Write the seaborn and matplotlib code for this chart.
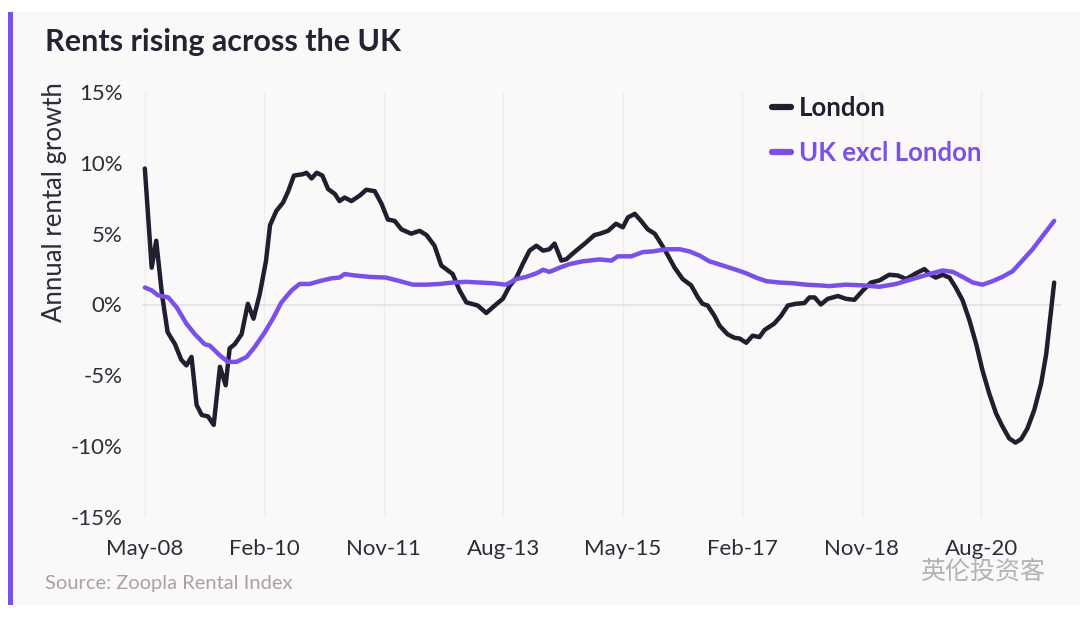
import matplotlib
matplotlib.use("Agg")
import matplotlib.pyplot as plt
import seaborn as sns
import pandas as pd
from matplotlib.patches import Rectangle

# months after May-08 (annual rental growth, %)
london_months = [0, 1.2, 2, 3, 4, 5.3, 6.4, 7.3, 8.2, 9.1, 10, 11.1, 12.1, 13.2, 14.2, 14.9,
                 15.8, 17, 18.1, 19.1, 20.2, 21.3, 22, 23.1, 24.3, 25.2, 26.2, 27.8, 28.4,
                 29.3, 30.2, 31.2, 32.2, 33.4, 34.2, 35.1, 36.3, 37.8, 38.9, 40.4, 41.6,
                 42.7, 43.9, 45.1, 46.8, 48.3, 49.5, 50.9, 52.1, 54.1, 55.3, 56.5, 58.5,
                 60, 61.5, 62.9, 64.1, 65.3, 66.4, 67.6, 68.8, 70, 71.1, 72, 73.2, 74.1,
                 75.2, 76.4, 77.6, 79, 80, 81.4, 82.8, 84, 84.9, 86.1, 87.2, 88.4, 89.6,
                 90.4, 91.6, 93.1, 94.5, 96, 97.2, 98, 98.9, 100.1, 101, 102.4, 103.6,
                 104.5, 105.7, 106.8, 108, 108.9, 110.6, 111.8, 113, 114.4, 115.9, 116.8,
                 117.7, 118.8, 120, 121.8, 123.2, 124.7, 126.2, 127.6, 129.1, 130.8, 132.3,
                 133.8, 135.5, 137, 137.9, 139, 140.2, 141.4, 142.5, 143.7, 144.9, 146.1,
                 147.2, 148.4, 149.6, 150.7, 151.9, 153, 154, 155.1, 156.3, 157.5, 158.4,
                 159.2, 159.8]
london_growth = [9.6, 2.6, 4.5, 0.75, -1.95, -2.8, -3.9, -4.3, -3.7, -7.1, -7.8, -7.9, -8.5,
                 -4.4, -5.7, -3.1, -2.8, -2.1, 0.05, -1.0, 0.75, 3.1, 5.6, 6.6, 7.2, 8.0,
                 9.1, 9.2, 9.3, 8.9, 9.3, 9.1, 8.15, 7.8, 7.3, 7.55, 7.3, 7.7, 8.1, 8.0,
                 7.1, 6.0, 5.9, 5.3, 5.0, 5.2, 4.9, 4.15, 2.75, 2.15, 1.0, 0.15, -0.07,
                 -0.6, -0.07, 0.4, 1.3, 1.9, 2.85, 3.8, 4.15, 3.8, 3.9, 4.3, 3.1, 3.2, 3.6,
                 4.0, 4.4, 4.9, 5.0, 5.2, 5.7, 5.45, 6.15, 6.4, 5.9, 5.3, 5.0, 4.5, 3.7,
                 2.6, 1.8, 1.35, 0.5, 0.05, -0.07, -0.8, -1.5, -2.1, -2.35, -2.4, -2.7,
                 -2.2, -2.3, -1.8, -1.35, -0.8, -0.07, 0.05, 0.1, 0.5, 0.5, 0.0, 0.4, 0.6,
                 0.4, 0.33, 1.0, 1.55, 1.7, 2.1, 2.05, 1.8, 2.2, 2.5, 2.15, 1.9, 2.1, 1.9,
                 1.2, 0.3, -1.1, -2.8, -4.65, -6.3, -7.7, -8.6, -9.45, -9.75, -9.5, -8.75,
                 -7.45, -5.6, -3.5, -0.65, 1.55]

uk_months = [0, 1.2, 2.3, 4.1, 5.6, 7.3, 8.8, 10.5, 11.4, 13.2, 14.6, 16.1, 17.9, 19.3, 21.1,
             22.5, 24, 25.8, 27.2, 29, 30.7, 32.8, 34.2, 35.1, 36.9, 39.5, 42.4, 44.8, 47.1,
             49.5, 51.8, 54.1, 56.5, 58.8, 61.2, 63.5, 65.3, 67, 68.8, 70, 71.1, 72.9, 74.6,
             77, 79.9, 82, 83.1, 85.5, 87.5, 89.3, 91.6, 94, 95.7, 97.5, 99.2, 101.6, 103.9,
             105.7, 107.4, 109.2, 111.5, 113.9, 116.2, 118.5, 120.3, 123.2, 126.2, 129.1,
             132, 134.9, 137.9, 140.2, 142, 143.7, 145.5, 147.2, 149, 150.7, 152.5, 154.2,
             156, 157.8, 159.8]
uk_growth = [1.2, 1.0, 0.65, 0.5, -0.2, -1.35, -2.1, -2.8, -2.9, -3.6, -4.05, -4.05, -3.7,
             -3.0, -1.95, -1.0, 0.15, 1.0, 1.45, 1.45, 1.65, 1.85, 1.9, 2.15, 2.05, 1.95,
             1.9, 1.65, 1.4, 1.4, 1.45, 1.55, 1.6, 1.55, 1.5, 1.4, 1.8, 1.95, 2.2, 2.45,
             2.3, 2.6, 2.85, 3.05, 3.18, 3.1, 3.4, 3.4, 3.7, 3.75, 3.9, 3.9, 3.75, 3.45,
             3.05, 2.75, 2.45, 2.2, 1.9, 1.65, 1.55, 1.5, 1.4, 1.35, 1.3, 1.4, 1.35, 1.25,
             1.45, 1.8, 2.15, 2.4, 2.3, 1.95, 1.55, 1.4, 1.65, 1.95, 2.35, 3.1, 3.9, 4.85,
             5.9]

tick_months = [0, 21, 42, 63, 84, 105, 126, 147]
tick_labels = ["May-08", "Feb-10", "Nov-11", "Aug-13", "May-15", "Feb-17", "Nov-18", "Aug-20"]
y_ticks = [15, 10, 5, 0, -5, -10, -15]

DARK = "#221e30"
PURPLE = "#7a50e8"
PANEL = "#faf8f8"
TEXT = "#2e2c36"

df = pd.concat([
    pd.DataFrame({"month": london_months, "growth": london_growth, "series": "London"}),
    pd.DataFrame({"month": uk_months, "growth": uk_growth, "series": "UK excl London"}),
])

sns.set_theme(style="white")
plt.rcParams["font.family"] = ["Lato", "DejaVu Sans"]

fig = plt.figure(figsize=(10.8, 6.2), dpi=100)
fig.patch.set_facecolor("white")
# card background and purple accent bar (drawn below the axes)
fig.patches.append(Rectangle((8 / 1080, 1 - 605 / 620), 1 - 8 / 1080, (605 - 12) / 620,
                             transform=fig.transFigure, facecolor=PANEL, edgecolor="none", zorder=-2))
fig.patches.append(Rectangle((8 / 1080, 1 - 605 / 620), 5 / 1080, (605 - 12) / 620,
                             transform=fig.transFigure, facecolor=PURPLE, edgecolor="none", zorder=-1))

ax = fig.add_axes([142 / 1080, 103 / 620, 919 / 1080, 425 / 620])
ax.set_facecolor(PANEL)

sns.lineplot(data=df, x="month", y="growth", hue="series", estimator=None, sort=False,
             palette={"London": DARK, "UK excl London": PURPLE}, linewidth=3.2,
             ax=ax, solid_capstyle="round", zorder=3)

ax.set_xlim(-0.5, 161)
ax.set_ylim(-15, 15)
ax.set_xticks(tick_months)
ax.set_xticklabels(tick_labels)
ax.set_yticks(y_ticks)
ax.set_yticklabels([f"{v}%" for v in y_ticks])
ax.tick_params(axis="both", length=0, labelsize=16, colors=TEXT)
ax.tick_params(axis="x", pad=16)
ax.tick_params(axis="y", pad=14)
for s in ax.spines.values():
    s.set_visible(False)
for m in tick_months:
    ax.axvline(m, color="#efecec", linewidth=1, zorder=1)
ax.axhline(0, color="#e3e0e0", linewidth=1.2, zorder=1)

ax.set_xlabel("")
ax.set_ylabel("Annual rental growth", fontsize=18.5, color=TEXT)
ax.yaxis.set_label_coords(-0.082, 0.74)

leg = ax.legend(loc="upper left", bbox_to_anchor=(0.66, 1.045), frameon=False, fontsize=18.5,
                handlelength=0.75, handletextpad=0.3, labelspacing=0.8, labelcolor="linecolor",
                title=None)
for t in leg.get_texts():
    t.set_fontweight("bold")
for h in leg.get_lines():
    h.set_linewidth(4.5)

fig.text(45 / 1080, 1 - 42 / 620, "Rents rising across the UK", fontsize=22, fontweight="bold",
         color="#262233", va="center", ha="left")
fig.text(45 / 1080, 1 - 584 / 620, "Source: Zoopla Rental Index", fontsize=14.5,
         color="#a7a3a3", va="center", ha="left")
fig.text(1045 / 1080, 1 - 572 / 620, "英伦投资客", fontsize=18, color="#b5b2b2",
         va="center", ha="right", family=["Noto Sans CJK SC", "DejaVu Sans"])

fig.savefig("out.png", dpi=100, facecolor="white")
